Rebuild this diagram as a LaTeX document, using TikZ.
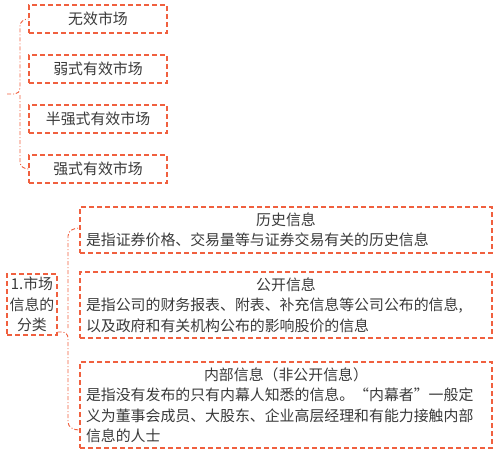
\documentclass[tikz,border=0pt]{standalone}
\usepackage{fontspec}
\setmainfont{Noto Sans CJK SC}
\usetikzlibrary{calc}
\definecolor{ln}{HTML}{F0603F}
\definecolor{tx}{HTML}{3A3A3A}
\begin{document}
\begin{tikzpicture}[x=1pt,y=-1pt,
  box/.style={draw=ln, dash pattern=on 5pt off 3pt, line width=1.1pt, text=tx,
    font=\fontsize{14.9}{20.5}\selectfont, inner sep=0pt},
  topbox/.style={box, minimum width=138pt, minimum height=28pt},
  infobox/.style={box, text width=400pt, inner xsep=6pt, align=left, minimum width=412pt},
  brace/.style={draw=ln, line width=0.9pt, dash pattern=on 4pt off 2pt on 1pt off 2pt}]
\useasboundingbox (0,0) rectangle (500,451);
% top group
\node[topbox] (b1) at (98,19) {无效市场};
\node[topbox] (b2) at (98,69) {弱式有效市场};
\node[topbox] (b3) at (98,119) {半强式有效市场};
\node[topbox] (b4) at (98,169) {强式有效市场};
\coordinate (t1) at (7,94);
\draw[brace] (t1) -- (15,94) to[out=0,in=-90] (20,88) -- (20,26) to[out=90,in=180] (b1.west);
\draw[brace] (20,95) -- (20,162) to[out=-90,in=180] (b4.west);
% lower group
\node[box, minimum width=50pt, minimum height=61pt, align=center] (L) at (32,304.5) {1.市场\\信息的\\分类};
\node[infobox, minimum height=46pt] (A) at (286,230) {\makebox[\linewidth]{历史信息}\\是指证券价格、交易量等与证券交易有关的历史信息};
\node[infobox, minimum height=66pt] (B) at (286,305) {\makebox[\linewidth]{公开信息}\\是指公司的财务报表、附表、补充信息等公司公布的信息,\\以及政府和有关机构公布的影响股价的信息};
\node[infobox, minimum height=86pt] (C) at (286,405) {\makebox[\linewidth]{内部信息（非公开信息）}\\是指没有发布的只有内幕人知悉的信息。“内幕者”一般定\\义为董事会成员、大股东、企业高层经理和有能力接触内部\\信息的人士};
\coordinate (t2) at ($(L.east)+(0,27.5)$);
\draw[brace] (t2) -- (62,332) to[out=0,in=90] (68,338) -- (68,422) to[out=-90,in=180] ($(C.west)+(0,25)$);
\draw[brace] (68,328) -- (68,236) to[out=90,in=180] ($(A.west)+(0,-2)$);
\end{tikzpicture}
\end{document}
